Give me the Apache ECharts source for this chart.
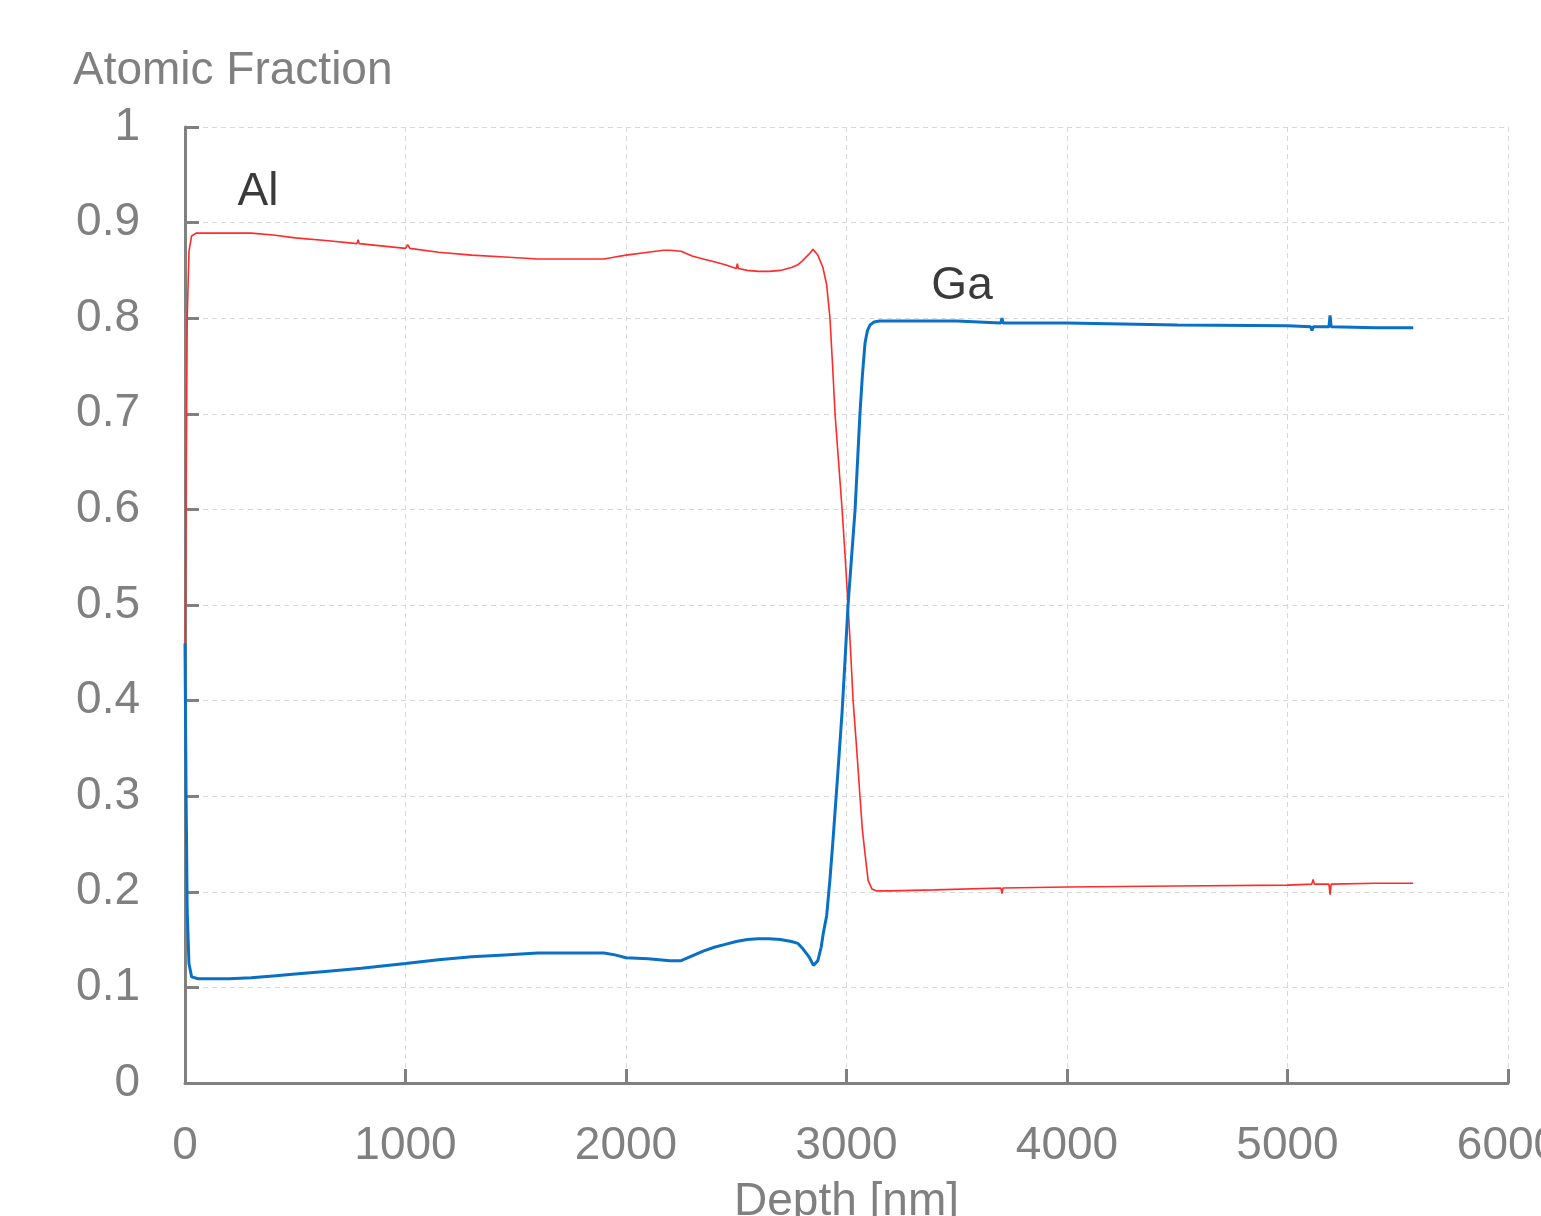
<!DOCTYPE html>
<html>
<head>
<meta charset="utf-8">
<script src="https://cdn.jsdelivr.net/npm/echarts@6/dist/echarts.min.js"></script>
<style>
html,body{margin:0;padding:0;background:#fff;}
#chart{width:1541px;height:1216px;}
</style>
</head>
<body>
<div id="chart"></div>
<script>
// Depth [nm] vs atomic fraction
const alDepth = [0,5,10,18,30,50,150,300,400,500,650,780,785,790,1000,1010,1020,1150,1300,1450,1600,1750,1900,1950,2000,2100,2170,2200,2250,2300,2350,2400,2450,2500,2505,2510,2550,2600,2650,2700,2750,2780,2800,2830,2848,2870,2893,2910,2925,2937,2948,2964,2980,2994,3007,3019,3030,3046,3061,3072,3084,3098,3115,3135,3200,3400,3700,3705,3710,4000,4500,5000,5110,5116,5122,5188,5193,5198,5400,5570];
const alValue = [0.40,0.62,0.80,0.87,0.886,0.889,0.889,0.889,0.887,0.884,0.881,0.878,0.882,0.878,0.873,0.877,0.873,0.869,0.866,0.864,0.862,0.862,0.862,0.864,0.866,0.869,0.871,0.871,0.870,0.865,0.862,0.859,0.856,0.852,0.857,0.852,0.850,0.849,0.849,0.850,0.853,0.856,0.860,0.867,0.872,0.866,0.853,0.835,0.800,0.750,0.700,0.650,0.600,0.550,0.500,0.450,0.400,0.350,0.300,0.265,0.240,0.212,0.203,0.201,0.201,0.202,0.204,0.198,0.204,0.205,0.206,0.207,0.208,0.213,0.208,0.208,0.197,0.208,0.209,0.209];

const gaDepth = [0,5,10,18,30,60,200,300,400,500,650,800,1000,1150,1300,1450,1600,1750,1900,1950,2000,2100,2200,2250,2300,2350,2400,2450,2500,2550,2600,2650,2700,2750,2780,2800,2830,2850,2870,2885,2895,2910,2925,2940,2960,2980,2994,3007,3023,3039,3050,3061,3072,3084,3095,3107,3125,3150,3300,3500,3700,3705,3710,4000,4500,5000,5105,5111,5117,5188,5193,5198,5400,5570];
const gaValue = [0.46,0.30,0.18,0.125,0.111,0.109,0.109,0.110,0.112,0.114,0.117,0.120,0.125,0.129,0.132,0.134,0.136,0.136,0.136,0.134,0.131,0.130,0.128,0.128,0.133,0.138,0.142,0.145,0.148,0.150,0.151,0.151,0.150,0.148,0.146,0.141,0.132,0.123,0.128,0.142,0.157,0.175,0.213,0.258,0.322,0.388,0.445,0.500,0.550,0.600,0.650,0.700,0.740,0.774,0.787,0.793,0.796,0.797,0.797,0.797,0.795,0.800,0.795,0.795,0.793,0.792,0.791,0.787,0.791,0.791,0.803,0.791,0.790,0.790];

const xTicks = [0,1000,2000,3000,4000,5000,6000];
const yTicks = [0,0.1,0.2,0.3,0.4,0.5,0.6,0.7,0.8,0.9,1];

const seriesNames = ['Al','Ga'];
const xName = 'Depth [nm]';
const yName = 'Atomic Fraction';

const FONT = "'Liberation Sans', Arial, sans-serif";
const AXIS = '#808080';

const chart = echarts.init(document.getElementById('chart'), null, {renderer:'canvas'});
const zip = (a,b) => a.map((v,i)=>[v,b[i]]);

chart.setOption({
  animation:false,
  backgroundColor:'#ffffff',
  grid:{left:185,right:33,top:127,bottom:133,containLabel:false,outerBoundsMode:'none'},
  graphic:[{
    type:'text', left:73, top:48,
    style:{text:yName, font:"46px "+FONT, fill:AXIS}
  }],
  xAxis:{
    type:'value', min:xTicks[0], max:xTicks[xTicks.length-1], interval:1000,
    name:xName, nameLocation:'middle', nameGap:96,
    nameTextStyle:{fontFamily:FONT,fontSize:46,color:AXIS},
    axisLine:{show:true,onZero:false,lineStyle:{color:AXIS,width:3}},
    axisTick:{show:true,inside:true,length:14,lineStyle:{color:AXIS,width:3}},
    axisLabel:{fontFamily:FONT,fontSize:46,color:AXIS,margin:40,hideOverlap:false,
      formatter:v=>String(v)},
    splitLine:{show:true,lineStyle:{color:'#d9d9d9',width:1,type:[5,4]}}
  },
  yAxis:{
    type:'value', min:yTicks[0], max:yTicks[yTicks.length-1], interval:0.1,
    axisLine:{show:true,onZero:false,lineStyle:{color:AXIS,width:3}},
    axisTick:{show:true,inside:true,length:14,lineStyle:{color:AXIS,width:3}},
    axisLabel:{fontFamily:FONT,fontSize:46,color:AXIS,margin:45,
      formatter:v=>String(Math.round(v*10)/10)},
    splitLine:{show:true,lineStyle:{color:'#d9d9d9',width:1,type:[5,4]}}
  },
  series:[
    {
      name:seriesNames[0], type:'line', data:zip(alDepth,alValue),
      showSymbol:false, symbol:'none', z:2, smooth:false,
      lineStyle:{color:'#ff2a2a',width:1.6},
      markPoint:{
        symbol:'circle', symbolSize:0,
        label:{show:true,position:'inside',formatter:seriesNames[0],
          fontFamily:FONT,fontSize:46,color:'#3a3a3a'},
        data:[{coord:[331,0.932]}]
      }
    },
    {
      name:seriesNames[1], type:'line', data:zip(gaDepth,gaValue),
      showSymbol:false, symbol:'none', z:3, smooth:false,
      lineStyle:{color:'#0a70c6',width:3},
      markPoint:{
        symbol:'circle', symbolSize:0,
        label:{show:true,position:'inside',formatter:seriesNames[1],
          fontFamily:FONT,fontSize:46,color:'#3a3a3a'},
        data:[{coord:[3524,0.833]}]
      }
    }
  ]
});
</script>
</body>
</html>
